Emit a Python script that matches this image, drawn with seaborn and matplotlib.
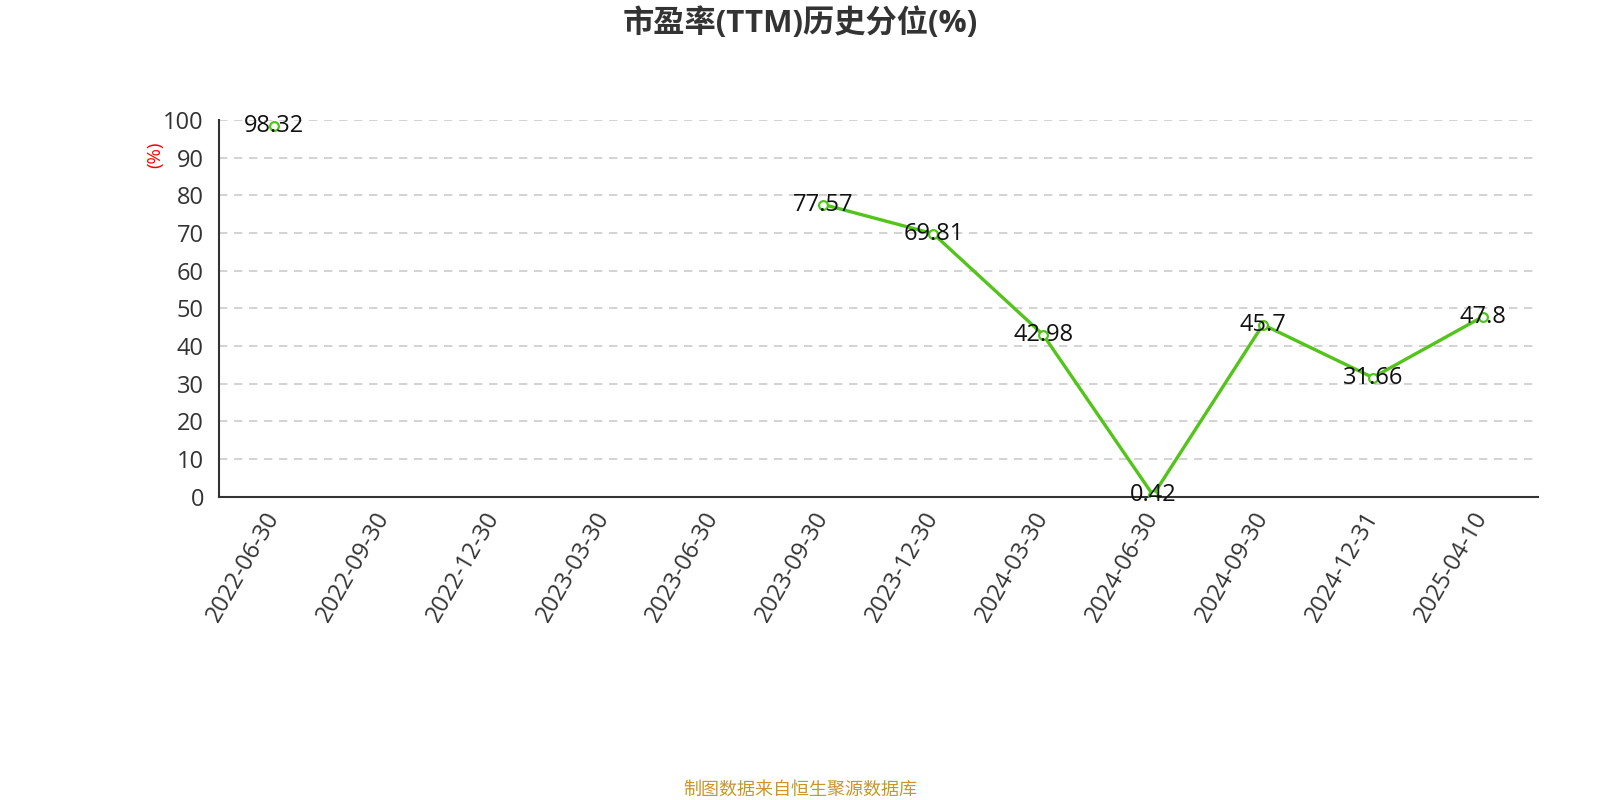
import matplotlib
matplotlib.use("Agg")
import matplotlib.pyplot as plt
import numpy as np
import pandas as pd
import seaborn as sns

dates = ["2022-06-30", "2022-09-30", "2022-12-30", "2023-03-30", "2023-06-30",
         "2023-09-30", "2023-12-30", "2024-03-30", "2024-06-30", "2024-09-30",
         "2024-12-31", "2025-04-10"]
values = [98.32, np.nan, np.nan, np.nan, np.nan,
          77.57, 69.81, 42.98, 0.42, 45.7, 31.66, 47.8]
labels = ["98.32", "", "", "", "", "77.57", "69.81", "42.98", "0.42", "45.7", "31.66", "47.8"]

sns.set_style("white")
plt.rcParams["font.family"] = ["Open Sans", "Noto Sans CJK SC", "DejaVu Sans"]

df = pd.DataFrame({"x": np.arange(len(dates)), "date": dates, "value": values})
# split into runs of valid values so gaps are not bridged
df["seg"] = df["value"].isna().cumsum()
df = df.dropna(subset=["value"])

green = "#52c41a"
fig = plt.figure(figsize=(16, 8), dpi=100)
ax = fig.add_axes([0.137, 0.379, 0.824, 0.471])

sns.lineplot(data=df, x="x", y="value", units="seg", estimator=None,
             color=green, linewidth=2.4, ax=ax, zorder=3)
sns.scatterplot(data=df, x="x", y="value", color="white", edgecolor=green,
                linewidth=1.6, s=40, ax=ax, zorder=4)

for x, v, lab in zip(range(len(dates)), values, labels):
    if lab:
        ax.text(x, v, lab, ha="center", va="center", fontsize=17, color="#111111", zorder=5)

ax.set_xlim(-0.5, len(dates) - 0.5)
ax.set_ylim(0, 100)
ax.set_yticks(range(0, 101, 10))
ax.set_xticks(range(len(dates)))
ax.set_xticklabels(dates, rotation=60, ha="right", va="center", rotation_mode="anchor")
ax.set_xticks(np.arange(-0.5, len(dates), 1), minor=True)
ax.tick_params(axis="x", which="major", length=0, pad=12, labelsize=17, labelcolor="#333333")
ax.tick_params(axis="x", which="minor", length=6, width=1.2, color="#333333")
ax.tick_params(axis="y", length=6, width=1.2, pad=5, color="#333333", labelsize=17, labelcolor="#333333")
ax.set_xlabel("")
ax.set_ylabel("")

ax.grid(axis="y", linestyle=(0, (5, 4)), color="#cccccc", linewidth=1.2)
ax.grid(axis="x", visible=False)
for side in ["top", "right"]:
    ax.spines[side].set_visible(False)
for side in ["left", "bottom"]:
    ax.spines[side].set_color("#333333")
    ax.spines[side].set_linewidth(1.5)

fig.text(0.097, 0.806, "(%)", rotation=90, color="red", fontsize=13.5, ha="center", va="center")
fig.text(0.5, 0.971, "市盈率(TTM)历史分位(%)", ha="center", va="center",
         fontsize=22.5, fontweight="bold", color="#333333")
fig.text(0.5, 0.013, "制图数据来自恒生聚源数据库", ha="center", va="center",
         fontsize=13, color="#c8962a")

plt.savefig("out.png", dpi=100)
